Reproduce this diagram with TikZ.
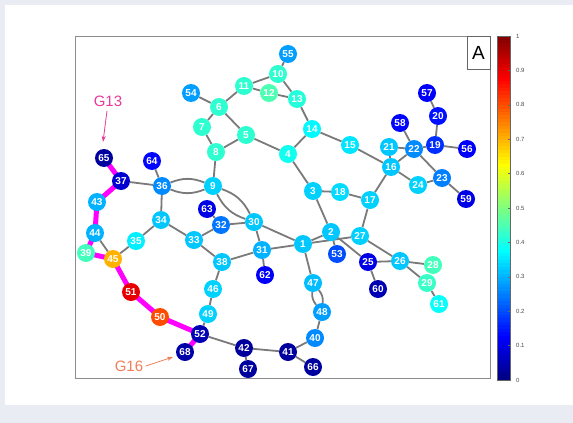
\documentclass[tikz,border=0pt]{standalone}
\usepackage{fontspec}
\setmainfont{Liberation Sans}
\usetikzlibrary{arrows.meta}
\pgfdeclarelayer{backdrop}
\pgfdeclarelayer{edges}
\pgfsetlayers{backdrop,edges,main}

% jet colour map: defines colour #1 for a value #2 in [0,1]
\newcommand\jetcolor[2]{%
  \pgfmathsetmacro\jr{max(0,min(1,1.5-abs(4*(#2)-3)))}%
  \pgfmathsetmacro\jg{max(0,min(1,1.5-abs(4*(#2)-2)))}%
  \pgfmathsetmacro\jb{max(0,min(1,1.5-abs(4*(#2)-1)))}%
  \edef\jettmp{\noexpand\definecolor{#1}{rgb}{\jr,\jg,\jb}}\jettmp}

% vertex: label, position, value on the colour scale
\newcommand\vtx[3]{%
  \jetcolor{vc#1}{#3}%
  \node[vertex, fill=vc#1] (n#1) at (#2) {#1};}

\definecolor{pagebg}{HTML}{E9EDF3}
\definecolor{edgegray}{HTML}{7A7A7A}
\definecolor{pathmag}{HTML}{FF00FF}
\definecolor{gthirteen}{HTML}{E8399B}
\definecolor{gsixteen}{HTML}{F07F5A}

\tikzset{
  vertex/.style={circle, minimum size=18pt, inner sep=0pt, text=white,
    font=\bfseries\fontsize{10}{10}\selectfont},
  edge/.style={draw=edgegray, line width=1.8pt},
  lens/.style={draw=edgegray, line width=1.8pt, bend left=#1},
  hot/.style={draw=pathmag, line width=5pt},
  tag/.style={font=\fontsize{15}{15}\selectfont},
  pointer/.style={line width=0.8pt, -{Stealth[length=6pt,width=4pt]}},
  ticklab/.style={font=\fontsize{6}{6}\selectfont, text=black!70, anchor=west, inner sep=0pt}
}

\begin{document}
\begin{tikzpicture}[x=1pt,y=-1pt]
\useasboundingbox (0,0) rectangle (573,423);
\begin{pgfonlayer}{backdrop}
\fill[pagebg] (0,0) rectangle (573,423);
\fill[white] (5,5) rectangle (573,405);
\end{pgfonlayer}

% axes frame and panel letter
\draw[black!45, line width=0.8pt] (75,36) rectangle (490,378);
\node[draw=black!60, line width=0.6pt, minimum width=23pt, minimum height=33pt,
  inner sep=0pt, fill=white, font=\fontsize{19}{19}\selectfont] (panel) at (478.5,52.5) {A};

% colour bar
\foreach \i in {0,...,99}{
  \jetcolor{cbc}{(\i+0.5)/100}
  \fill[cbc] (497,{380-3.44*\i+0.3}) rectangle (510,{380-3.44*(\i+1)-0.3});
}
\draw[black!60, line width=0.5pt] (497,36) rectangle (510,380);
\foreach \k/\lab in {0/0,1/0.1,2/0.2,3/0.3,4/0.4,5/0.5,6/0.6,7/0.7,8/0.8,9/0.9,10/1}{
  \draw[black!60, line width=0.4pt] (508,{380-34.4*\k}) -- (510,{380-34.4*\k});
  \node[ticklab] at (516,{380-34.4*\k}) {\lab};
}

% vertices
\vtx{55}{288,54}{0.28}
\vtx{10}{278,74}{0.42}
\vtx{11}{244,86}{0.42}
\vtx{12}{269,93}{0.45}
\vtx{13}{297,99}{0.41}
\vtx{54}{191,93}{0.28}
\vtx{6}{219,107}{0.42}
\vtx{7}{202,127}{0.42}
\vtx{5}{246,135}{0.42}
\vtx{8}{216,152}{0.42}
\vtx{14}{312,129}{0.37}
\vtx{4}{288,154}{0.39}
\vtx{15}{350,145}{0.35}
\vtx{57}{427,93}{0.12}
\vtx{20}{438,116}{0.14}
\vtx{58}{400,123}{0.13}
\vtx{21}{389,147}{0.32}
\vtx{22}{414,149}{0.26}
\vtx{19}{435,145}{0.17}
\vtx{56}{467,149}{0.12}
\vtx{16}{391,167}{0.32}
\vtx{24}{418,185}{0.33}
\vtx{23}{442,178}{0.25}
\vtx{59}{466,199}{0.10}
\vtx{65}{104,158}{0.03}
\vtx{64}{152,161}{0.13}
\vtx{37}{121,181}{0.08}
\vtx{36}{162,186}{0.26}
\vtx{9}{213,186}{0.33}
\vtx{43}{97,202}{0.30}
\vtx{63}{207,209}{0.10}
\vtx{32}{221,225}{0.24}
\vtx{34}{161,220}{0.32}
\vtx{3}{313,191}{0.33}
\vtx{18}{340,192}{0.34}
\vtx{17}{370,200}{0.33}
\vtx{30}{254,222}{0.32}
\vtx{44}{95,233}{0.30}
\vtx{35}{136,241}{0.36}
\vtx{33}{194,240}{0.32}
\vtx{31}{262,250}{0.30}
\vtx{1}{303,244}{0.32}
\vtx{2}{331,232}{0.32}
\vtx{27}{360,236}{0.33}
\vtx{53}{337,254}{0.20}
\vtx{39}{86,253}{0.44}
\vtx{45}{113,259}{0.70}
\vtx{38}{222,262}{0.32}
\vtx{62}{265,275}{0.12}
\vtx{25}{368,262}{0.10}
\vtx{26}{400,261}{0.32}
\vtx{28}{433,265}{0.44}
\vtx{29}{427,283}{0.43}
\vtx{61}{439,304}{0.38}
\vtx{60}{378,289}{0.05}
\vtx{47}{313,283}{0.31}
\vtx{46}{213,289}{0.33}
\vtx{51}{131,292}{0.90}
\vtx{48}{322,312}{0.28}
\vtx{50}{160,317}{0.80}
\vtx{49}{208,314}{0.33}
\vtx{40}{315,338}{0.26}
\vtx{52}{200,334}{0.05}
\vtx{68}{185,352}{0.04}
\vtx{42}{244,348}{0.03}
\vtx{41}{288,352}{0.03}
\vtx{67}{248,369}{0.03}
\vtx{66}{313,367}{0.03}

% group labels with pointers
\node[tag, text=gthirteen] (g13) at (108,101) {G13};
\coordinate (g13tip) at (103,142);
\draw[pointer, gthirteen] (g13.south) ++(-1,1) -- (g13tip);
\node[tag, text=gsixteen] (g16) at (129,366) {G16};
\coordinate (g16tip) at (173,357);
\draw[pointer, gsixteen] (g16.east) ++(-1,0) -- (g16tip);

% connections
\begin{pgfonlayer}{edges}
\foreach \a/\b in {55/10,10/11,10/13,11/12,12/13,11/6,54/6,6/7,6/5,7/8,8/5,5/4,
  13/14,14/4,14/15,15/16,4/3,8/9,3/18,18/17,17/16,16/21,21/22,16/22,58/22,22/19,
  19/20,20/57,19/56,16/24,24/23,22/23,23/59,3/2,17/27,2/1,2/53,2/25,1/27,27/26,
  25/26,25/60,26/28,26/29,29/61,1/30,1/31,1/47,48/40,40/41,41/42,41/66,42/67,
  42/52,52/49,49/46,46/38,38/33,38/31,31/30,30/32,32/33,33/34,34/36,34/35,35/45,
  36/37,36/64,31/62,32/63,44/45}{
  \draw[edge] (n\a) -- (n\b);
}
\foreach \a/\b in {47/48,9/30,9/36}{
  \draw[lens=22] (n\a) to (n\b);
  \draw[lens=-22] (n\a) to (n\b);
}
\foreach \a/\b in {65/37,37/43,43/44,44/39,39/45,45/51,51/50,50/52,52/68}{
  \draw[hot] (n\a.center) -- (n\b.center);
}
\end{pgfonlayer}
\end{tikzpicture}
\end{document}
